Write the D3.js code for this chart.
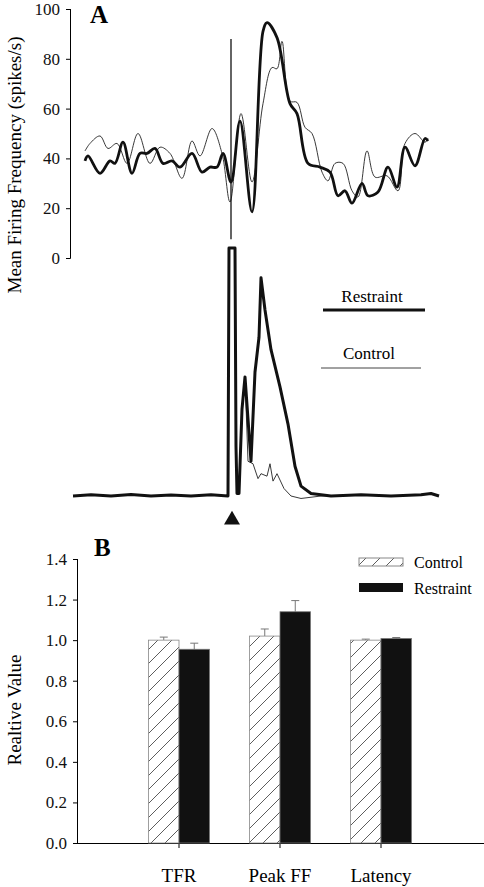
<!DOCTYPE html>
<html><head><meta charset="utf-8">
<script src="https://cdn.jsdelivr.net/npm/d3@7"></script>
<style>body{margin:0;background:#fff}svg text{font-family:"Liberation Serif","DejaVu Serif",serif !important}</style>
</head><body><div id="chart"></div>
<script>
// panel A, top: smoothed firing frequency (t in ms relative to stimulus)
const restraintT = [-146,-143,-131,-121,-116,-108,-99,-91,-84,-76,-68,-59,-51,-39,-29,-21,-14,-8,0,9,21,32,36,46,59,66,77,89,99,107,114,121,131,137,147,157,166,174,184,194,197];
const restraintV = [39,41,34,39,38,46.5,34,42,42,44,38,39,36.5,42,34.5,36.5,36.5,42,30.5,55,18.5,91,94.5,88.5,62,58,38,36.5,34.5,25,27,22,30,25,26.5,36.5,28.5,44.5,37,48,47];
const controlT = [-146,-141,-131,-123,-114,-104,-93,-81,-71,-61,-49,-39,-31,-19,-9,-1,10,21,32,41,46,51,59,66,74,81,91,97,104,112,121,127,136,144,156,167,174,184,194,197];
const controlV = [43,46,49,44,46,38,50,38,44.5,42,32,47,41,52,42,22.5,58,30.5,62,76.5,76,87,63,62.5,52.5,50,34.5,31,38,38,27,24.5,43,32.5,33,27,46,50,46.5,48];
const stimLine = [88, 7.5];

// panel A, bottom: raw rate (baseline = 0, clipped artifact = 100)
const rawRT = [-158,-140,-120,-100,-80,-60,-40,-20,-3,-2,4,5,6,8,11,14,20,24,28,30,34,40,49,57,64,70,80,100,130,160,190,200,208];
const rawRV = [0,0.5,0,0.6,0,0.4,0,0.5,0,100,100,20,1,1,35,48,14,50,64,88,75,59,44,29,12,4,1,0,0.5,0,0.5,1,0];
const rawCT = [-158,-140,-120,-100,-80,-60,-40,-20,-3,-2,4,5,6,8,11,14,17,22,27,30,36,39,42,46,53,60,70,90,130,160,190,200,208];
const rawCV = [0,0.5,0,0.6,0,0.4,0,0.5,0,100,100,20,1,1,35,48,14,13,7,9,8,13,6,9,3,0,-1,0,0.5,0,0.5,1,0];

// panel B
const categories = ["TFR", "Peak FF", "Latency"];
const controlMean = [1.0, 1.02, 1.0];
const controlErr = [0.015, 0.035, 0.005];
const restraintMean = [0.955, 1.14, 1.008];
const restraintErr = [0.03, 0.055, 0.005];
const yTicksB = [0, 0.2, 0.4, 0.6, 0.8, 1.0, 1.2, 1.4];

const svg = d3.select("#chart").append("svg").attr("width", 484).attr("height", 887);
const fixText = g => g.selectAll("text").attr("font-family", null).style("font-size", "17px").attr("fill", "#111");

// ---- panel A top
const x = d3.scaleLinear().domain([-158, 208]).range([73, 439]);
const yA = d3.scaleLinear().domain([0, 100]).range([258, 9]);
svg.append("g").attr("transform", "translate(70,0)")
  .call(d3.axisLeft(yA).tickValues([0,20,40,60,80,100]).tickSize(4).tickPadding(6))
  .call(g => { g.attr("font-family", null); g.select(".domain").attr("d", "M-4,258.5H0.5V9"); fixText(g); });

const lineA = d3.line().x(d => x(d[0])).y(d => yA(d[1])).curve(d3.curveCatmullRom);
svg.append("path").attr("d", lineA(d3.zip(controlT, controlV))).attr("fill","none").attr("stroke","#222").attr("stroke-width",0.9);
svg.append("path").attr("d", lineA(d3.zip(restraintT, restraintV))).attr("fill","none").attr("stroke","#111").attr("stroke-width",2.8);
svg.append("line").attr("x1", x(0)).attr("x2", x(0)).attr("y1", yA(stimLine[0])).attr("y2", yA(stimLine[1])).attr("stroke","#111").attr("stroke-width",1.3);

// ---- panel A bottom
const yR = d3.scaleLinear().domain([0, 100]).range([496, 248]);
const lineR = d3.line().x(d => x(d[0])).y(d => yR(d[1]));
svg.append("path").attr("d", lineR(d3.zip(rawCT, rawCV))).attr("fill","none").attr("stroke","#222").attr("stroke-width",0.9);
svg.append("path").attr("d", lineR(d3.zip(rawRT, rawRV))).attr("fill","none").attr("stroke","#111").attr("stroke-width",3).attr("stroke-linejoin","round");
svg.append("path").attr("d", d3.symbol(d3.symbolTriangle, 110)()).attr("transform", `translate(${x(1)},520)`).attr("fill","#111");

svg.append("text").attr("x", 372).attr("y", 302).attr("text-anchor","middle").style("font-size","17px").text("Restraint");
svg.append("line").attr("x1",323).attr("x2",425).attr("y1",310).attr("y2",310).attr("stroke","#111").attr("stroke-width",3);
svg.append("text").attr("x", 369).attr("y", 359).attr("text-anchor","middle").style("font-size","17px").text("Control");
svg.append("line").attr("x1",321).attr("x2",421).attr("y1",368).attr("y2",368).attr("stroke","#444").attr("stroke-width",1);

svg.append("text").attr("x", 90).attr("y", 23).style("font-size","25px").style("font-weight","bold").text("A");
svg.append("text").attr("transform","translate(21,165) rotate(-90)").attr("text-anchor","middle").style("font-size","19px").text("Mean Firing Frequency (spikes/s)");

// ---- panel B
const defs = svg.append("defs");
const pat = defs.append("pattern").attr("id","hatch").attr("patternUnits","userSpaceOnUse").attr("width",14).attr("height",14);
pat.append("rect").attr("width",14).attr("height",14).attr("fill","#fff");
pat.append("path").attr("d","M0,14L14,0M-7,7L7,-7M7,21L21,7").attr("stroke","#333").attr("stroke-width",0.8);

const yB = d3.scaleLinear().domain([0, 1.4]).range([843, 559]);
const xB = d3.scaleBand().domain(categories).range([128.5, 431.5]);
const xBc = c => xB(c) + xB.bandwidth() / 2;
const bw = 30.5;

svg.append("g").attr("transform","translate(77,0)")
  .call(d3.axisLeft(yB).tickValues(yTicksB).tickFormat(d3.format(".1f")).tickSize(4).tickPadding(6))
  .call(g => { g.attr("font-family", null); g.select(".domain").attr("d","M0.5,843V559"); fixText(g); });
svg.append("line").attr("x1",77).attr("x2",484).attr("y1",843.5).attr("y2",843.5).attr("stroke","#000");
categories.forEach(c => svg.append("line").attr("x1",xBc(c)).attr("x2",xBc(c)).attr("y1",843).attr("y2",848).attr("stroke","#000"));
categories.forEach(c => svg.append("text").attr("x",xBc(c)).attr("y",882).attr("text-anchor","middle").style("font-size","19px").text(c));

const err = (cx, m, e) => {
  svg.append("line").attr("x1",cx).attr("x2",cx).attr("y1",yB(m)).attr("y2",yB(m+e)).attr("stroke","#777");
  svg.append("line").attr("x1",cx-4).attr("x2",cx+4).attr("y1",yB(m+e)).attr("y2",yB(m+e)).attr("stroke","#777");
};
categories.forEach((c, i) => {
  const cx = xBc(c);
  err(cx - bw/2, controlMean[i], controlErr[i]);
  err(cx + bw/2, restraintMean[i], restraintErr[i]);
  svg.append("rect").attr("x", cx - bw).attr("width", bw).attr("y", yB(controlMean[i])).attr("height", yB(0) - yB(controlMean[i]))
    .attr("fill","url(#hatch)").attr("stroke","#888").attr("stroke-width",0.8);
  svg.append("rect").attr("x", cx).attr("width", bw).attr("y", yB(restraintMean[i])).attr("height", yB(0) - yB(restraintMean[i]))
    .attr("fill","#111").attr("stroke","#777").attr("stroke-width",0.8);
});

svg.append("rect").attr("x",359).attr("y",558).attr("width",44).attr("height",8).attr("fill","url(#hatch)").attr("stroke","#888");
svg.append("text").attr("x",414).attr("y",568).style("font-size","16px").text("Control");
svg.append("rect").attr("x",359).attr("y",583).attr("width",44).attr("height",9).attr("fill","#111");
svg.append("text").attr("x",414).attr("y",594).style("font-size","16px").text("Restraint");

svg.append("text").attr("x", 94).attr("y", 556).style("font-size","25px").style("font-weight","bold").text("B");
svg.append("text").attr("transform","translate(21,710) rotate(-90)").attr("text-anchor","middle").style("font-size","19px").text("Realtive Value");
</script></body></html>
